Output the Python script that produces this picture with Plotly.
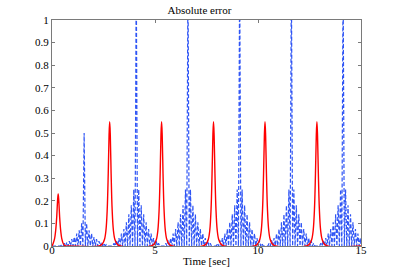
import numpy as np
import plotly.graph_objects as go

# ---- data ----
red_centers = [0.30, 2.80, 5.32, 7.84, 10.34, 12.86]
red_offsets = [-0.50, -0.35, -0.25, -0.18, -0.12, -0.07, -0.03, 0.0, 0.03, 0.07, 0.12, 0.18, 0.25, 0.35, 0.50]
red_first_values = [0.0, 0.0, 0.01, 0.03, 0.07, 0.13, 0.20, 0.23, 0.20, 0.13, 0.07, 0.03, 0.01, 0.0, 0.0]
red_peak_values = [0.0, 0.01, 0.03, 0.07, 0.16, 0.32, 0.49, 0.55, 0.49, 0.32, 0.16, 0.07, 0.03, 0.01, 0.0]

blue_centers = [1.56, 4.09, 6.60, 9.11, 11.62, 14.13]
blue_offsets = list(np.round(np.linspace(-1.2, 1.2, 41), 3))
blue_first_values = [0.0, 0.0, 0.006, 0.0, 0.012, 0.0, 0.016, 0.0, 0.022, 0.0,
                     0.03, 0.0, 0.04, 0.0, 0.055, 0.0, 0.07, 0.0, 0.10, 0.0,
                     0.50,
                     0.0, 0.10, 0.0, 0.07, 0.0, 0.055, 0.0, 0.04, 0.0,
                     0.03, 0.0, 0.022, 0.0, 0.016, 0.0, 0.012, 0.0, 0.006, 0.0, 0.0]
blue_peak_values = [0.0, 0.0, 0.012, 0.0, 0.025, 0.0, 0.035, 0.0, 0.055, 0.0,
                    0.075, 0.0, 0.105, 0.0, 0.14, 0.0, 0.18, 0.0, 0.25, 0.0,
                    1.20,
                    0.0, 0.25, 0.0, 0.18, 0.0, 0.14, 0.0, 0.105, 0.0,
                    0.075, 0.0, 0.055, 0.0, 0.035, 0.0, 0.025, 0.0, 0.012, 0.0, 0.0]

x_ticks = [0, 5, 10, 15]
y_ticks = [0, 0.1, 0.2, 0.3, 0.4, 0.5, 0.6, 0.7, 0.8, 0.9, 1]
y_tick_labels = ["0", "0.1", "0.2", "0.3", "0.4", "0.5", "0.6", "0.7", "0.8", "0.9", "1"]

# ---- build series ----
rt, rv = [0.0], [0.0]
for i, c in enumerate(red_centers):
    vals = red_first_values if i == 0 else red_peak_values
    for o, v in zip(red_offsets, vals):
        t = c + o
        if t >= 0:
            rt.append(t); rv.append(v)
rt.append(15.0); rv.append(0.0)

bt, bv = [0.0], [0.0]
for i, c in enumerate(blue_centers):
    vals = blue_first_values if i == 0 else blue_peak_values
    for o, v in zip(blue_offsets, vals):
        t = c + o
        if 0 <= t <= 15:
            bt.append(t); bv.append(v)
bt.append(15.0); bv.append(0.0)

fig = go.Figure()
fig.add_trace(go.Scatter(x=bt, y=bv, mode="lines",
                         line=dict(color="#2f55f5", width=1.2, dash="4px,2px"),
                         showlegend=False))
fig.add_trace(go.Scatter(x=rt, y=rv, mode="lines",
                         line=dict(color="#ff0000", width=1.4, shape="spline"),
                         showlegend=False))

SERIF = "Liberation Serif"
font = dict(family=SERIF, size=11, color="#000")
axis_common = dict(showline=True, linecolor="#7a7a7a", linewidth=1, mirror="ticks",
                   ticks="inside", ticklen=3, tickcolor="#7a7a7a", showgrid=False,
                   zeroline=False, tickfont=font, automargin=False)
fig.update_layout(
    template="none",
    width=399, height=277,
    margin=dict(l=52, r=38, t=20, b=31, pad=0),
    paper_bgcolor="white", plot_bgcolor="white",
    title=dict(text="Absolute error", x=0.5, xanchor="center", y=0.962, yanchor="middle",
               pad=dict(t=0, b=0), font=dict(family=SERIF, size=11, color="#000")),
    xaxis=dict(range=[0, 15], tickvals=x_ticks, ticktext=[str(v) for v in x_ticks],
               ticklabelstandoff=-6, **axis_common),
    yaxis=dict(range=[0, 1], tickvals=y_ticks, ticktext=y_tick_labels, **axis_common),
    annotations=[dict(text="Time [sec]", x=0.5, y=0, xref="paper", yref="paper",
                      xanchor="center", yanchor="middle", yshift=-15, showarrow=False,
                      font=font)],
)
fig.write_html("out.html", config={"displayModeBar": False},
               post_script="document.body.style.margin='0';")
